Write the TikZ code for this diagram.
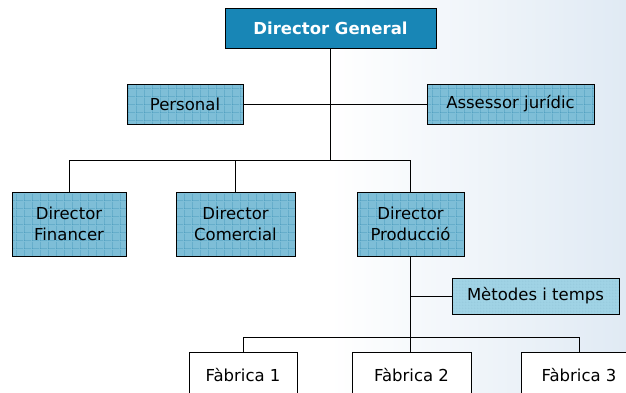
\documentclass[tikz,border=0pt]{standalone}
\usepackage{fontspec}
\setmainfont{DejaVu Sans}
\usepackage{xcolor}
\usepackage{tikz}
\usetikzlibrary{positioning,patterns.meta}

\definecolor{dgblue}{RGB}{24,134,182}
\definecolor{cellblue}{RGB}{126,190,215}
\definecolor{lineblue}{RGB}{60,145,182}
\definecolor{paleblue}{RGB}{160,211,229}
\definecolor{washblue}{RGB}{224,234,244}

\tikzdeclarepattern{name=cellgrid, type=uncolored,
  bounding box={(0pt,0pt) and (8pt,8pt)}, tile size={(8pt,8pt)},
  code={\draw[line width=0.7pt] (0pt,0pt) -- (8pt,0pt) (0pt,0pt) -- (0pt,8pt);}}
\tikzdeclarepattern{name=finegrid, type=uncolored,
  bounding box={(0pt,0pt) and (3pt,3pt)}, tile size={(3pt,3pt)},
  code={\draw[line width=0.5pt] (0pt,0pt) -- (3pt,0pt) (0pt,0pt) -- (0pt,3pt);}}

\tikzset{
  chart/.style={draw=black, line width=1pt, align=center, inner sep=0pt,
    font=\fontsize{16.5}{21}\selectfont},
  headbox/.style={chart, fill=dgblue, text=white,
    font=\fontsize{16.5}{21}\selectfont\bfseries},
  gridbox/.style={chart, preaction={fill=cellblue}, pattern=cellgrid, pattern color=lineblue},
  finebox/.style={chart, preaction={fill=paleblue}, pattern=finegrid, pattern color=lineblue!60},
  plainbox/.style={chart, fill=white},
  link/.style={line width=1pt}
}

\begin{document}
\begin{tikzpicture}[x=1pt,y=-1pt]
\useasboundingbox (0,0) rectangle (626,392);
\clip (0,0) rectangle (626,392);
\shade[left color=white, right color=washblue] (330,0) rectangle (626,392);

% top
\node[headbox, minimum width=211pt, minimum height=40pt] (dg) at (330.5,28) {Director General};
\node[gridbox, minimum width=116pt, minimum height=40pt] (pers) at (185,104) {Personal};
\node[gridbox, minimum width=167pt, minimum height=40pt] (asses) at (510.5,104) {Assessor jurídic};

% directors
\node[gridbox, minimum width=114pt, minimum height=64pt] (fin) at (69,224) {Director\\Financer};
\node[gridbox, minimum width=119pt, minimum height=64pt] (com) at (235.5,224) {Director\\Comercial};
\node[gridbox, minimum width=107pt, minimum height=64pt] (prod) at (410.5,224) {Director\\Producció};

% production
\node[finebox, minimum width=167pt, minimum height=36pt] (met) at (535.5,296) {Mètodes i temps};
\node[plainbox, minimum width=108pt, minimum height=46pt] (fab1) at (243,375) {Fàbrica 1};
\node[plainbox, minimum width=119pt, minimum height=46pt] (fab2) at (411.5,375) {Fàbrica 2};
\node[plainbox, minimum width=116pt, minimum height=46pt] (fab3) at (579,375) {Fàbrica 3};

\coordinate (bus) at (0,160.5);
\coordinate (fbus) at (0,337);

\draw[link] (dg.south) -- (dg.south |- bus);
\draw[link] (pers) -- (asses);
\draw[link] (fin.north) -- (fin.north |- bus) -| (prod.north);
\draw[link] (com.north) -- (com.north |- bus);
\draw[link] (prod.south) -- (prod.south |- fab2.north);
\draw[link] (met.west) -- (met.west -| prod.south);
\draw[link] (fab1.north) -- (fab1.north |- fbus) -| (fab3.north);
\end{tikzpicture}
\end{document}
